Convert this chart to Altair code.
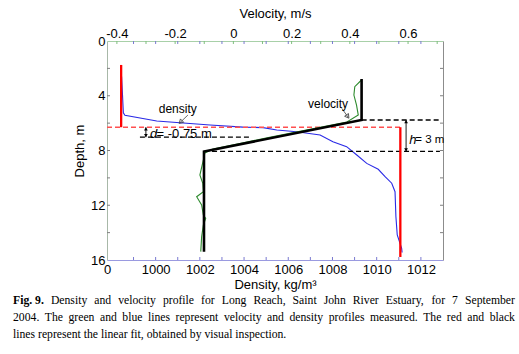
import altair as alt
import pandas as pd

# ---------------- data ----------------
# measured density profile (blue)
dens_depth = [2.6, 3.9, 5.25, 5.42, 5.84, 5.97, 6.14, 6.29, 6.33, 6.5, 6.63, 6.87,
              7.36, 7.72, 8.33, 8.94, 9.37, 9.91, 10.39, 11.01, 12.84, 14.17, 15.15, 15.45]
dens_vals = [998.46, 998.5, 998.54, 998.61, 1000.05, 1001.1, 1002.46, 1003.95, 1004.86,
             1005.48, 1006.38, 1007.44, 1008.02, 1008.64, 1009.1, 1009.55, 1010.07,
             1010.38, 1010.68, 1010.83, 1010.87, 1010.93, 1011.13, 1011.15]

# measured velocity profile (green)
vel_depth = [2.85, 3.34, 3.95, 4.68, 5.41, 5.92, 6.5, 7.05, 7.45, 7.89, 8.18, 8.69, 9.79,
             10.4, 11.01, 11.38, 11.98, 12.71, 12.95, 13.44, 14.3, 15.39]
vel_vals = [0.44, 0.417, 0.414, 0.423, 0.429, 0.39, 0.25, 0.12, 0.03, -0.07, -0.098,
            -0.103, -0.115, -0.105, -0.103, -0.126, -0.109, -0.103, -0.095, -0.103,
            -0.109, -0.112]

# linear fits
dens_fit_rho = [998.44, 1011.07]
dens_fit_top = [1.75, 6.3]
dens_fit_bot = [6.3, 15.78]
interface_depth = 6.3

vel_fit_v = [0.4404, 0.4404, -0.1009, -0.1009]
vel_fit_z = [2.78, 5.77, 8.07, 15.39]

shear_top, shear_bot, d_level = 5.77, 8.07, 7.03

dens_ticks_major = [1000, 1002, 1004, 1006, 1008, 1010, 1012]
dens_minor = list(range(999, 1013))
vel_labels = [-0.4, -0.2, 0, 0.2, 0.4, 0.6]
vel_minor = [-0.4, -0.3, -0.2, -0.1, 0, 0.1, 0.2, 0.3, 0.4, 0.5, 0.6, 0.7]
depth_ticks = [0, 2, 4, 6, 8, 10, 12, 14, 16]

cap_line1 = ["Fig. 9.", "Density", "and", "velocity", "profile", "for", "Long", "Reach,",
             "Saint", "John", "River", "Estuary,", "for", "7", "September"]
cap_line2 = ["2004.", "The", "green", "and", "blue", "lines", "represent", "velocity", "and",
             "density", "profiles", "measured.", "The", "red", "and", "black"]
cap_line3 = "lines represent the linear fit, obtained by visual inspection."

# ---------------- scales & axes ----------------
W, H = 336, 219
D_DOM = [997.8, 1013]
V_DOM = [-0.434, 0.72]
xd = alt.Scale(domain=D_DOM, nice=False, zero=False)
xv = alt.Scale(domain=V_DOM, nice=False, zero=False)
yz = alt.Scale(domain=[0, 16], nice=False, zero=False, reverse=True)

SANS = "Liberation Sans"
SERIF = "Liberation Serif"

ax_d = alt.Axis(orient="bottom", values=[D_DOM[0]] + dens_ticks_major, format="d",
                labelExpr="datum.value < 999 ? '0' : datum.label",
                ticks=False, grid=False, domainColor="#9a9ae0", labelFont=SANS,
                labelFontSize=13, labelColor="black", labelPadding=3, labelFlush=False,
                labelOverlap=False, title="Density, kg/m³", titleFont=SANS,
                titleFontSize=13, titleFontWeight="normal", titleColor="black",
                titlePadding=2)
ax_z = alt.Axis(orient="left", values=depth_ticks,
                labelExpr="datum.value % 4 == 0 ? datum.label : ''",
                ticks=False, grid=False, domainColor="#a8b8a8", labelFont=SANS,
                labelFontSize=13, labelColor="black", labelPadding=2, labelFlush=False,
                labelOverlap=False, title="Depth, m", titleFont=SANS, titleFontSize=13,
                titleFontWeight="normal", titleColor="black", titlePadding=4)
ax_v = alt.Axis(orient="top", values=vel_labels,
                labelExpr="replace(format(datum.value, '~g'), '\u2212', '-')",
                ticks=False, grid=False, domainColor="#a8d0a8", labelFont=SANS,
                labelFontSize=13, labelColor="black", labelPadding=1, labelFlush=False,
                labelOverlap=False, title="Velocity, m/s", titleFont=SANS,
                titleFontSize=13, titleFontWeight="normal", titleColor="black",
                titlePadding=7)
ax_zr = alt.Axis(orient="right", values=depth_ticks, labels=False, ticks=False,
                 grid=False, domainColor="#8c8c8c", title=None)


def X(f):
    return alt.X(f"{f}:Q", scale=xd, axis=ax_d)


def Y(f):
    return alt.Y(f"{f}:Q", scale=yz, axis=ax_z)


def XV(f):
    return alt.X(f"{f}:Q", scale=xv, axis=ax_v)


def YR(f):
    return alt.Y(f"{f}:Q", scale=yz, axis=ax_zr)


# ---------------- density group ----------------
df_dens = pd.DataFrame({"d": dens_vals, "z": dens_depth, "i": range(len(dens_vals))})
blue = alt.Chart(df_dens).mark_line(color="#2a2ae6", strokeWidth=1.1).encode(
    x=X("d"), y=Y("z"), order="i:Q")

df_red = pd.DataFrame({"d": dens_fit_rho, "z": dens_fit_top, "z2": dens_fit_bot})
red = alt.Chart(df_red).mark_rule(color="#ff0000", strokeWidth=2.3).encode(
    x=X("d"), y=Y("z"), y2="z2:Q")

df_red_dash = pd.DataFrame({"d": [D_DOM[0]], "d2": [dens_fit_rho[1]], "z": [interface_depth]})
red_dash = alt.Chart(df_red_dash).mark_rule(color="#ff5050", strokeWidth=1.6,
                                            strokeDash=[5, 3]).encode(
    x=X("d"), x2="d2:Q", y=Y("z"))

df_blk_dash = pd.DataFrame({"d": [999.29, 1002.19, 1009.32],
                            "d2": [1004.27, 1012.86, 1012.86],
                            "z": [d_level, shear_bot, shear_top]})
blk_dash = alt.Chart(df_blk_dash).mark_rule(color="black", strokeWidth=1.3,
                                            strokeDash=[5, 3]).encode(
    x=X("d"), x2="d2:Q", y=Y("z"))

# double arrows (d and h)
df_dbl = pd.DataFrame({"d": [999.56, 1011.33], "z": [interface_depth, shear_top],
                       "z2": [d_level, shear_bot]})
dbl = alt.Chart(df_dbl).mark_rule(color="black", strokeWidth=0.9).encode(
    x=X("d"), y=Y("z"), y2="z2:Q")
df_head_up = pd.DataFrame({"d": [999.56, 1011.33], "z": [interface_depth + 0.12, shear_top + 0.12]})
df_head_dn = pd.DataFrame({"d": [999.56, 1011.33], "z": [d_level - 0.12, shear_bot - 0.12]})
head_up = alt.Chart(df_head_up).mark_point(shape="triangle-up", filled=True, size=14,
                                           color="black", opacity=1).encode(x=X("d"), y=Y("z"))
head_dn = alt.Chart(df_head_dn).mark_point(shape="triangle-down", filled=True, size=14,
                                           color="black", opacity=1).encode(x=X("d"), y=Y("z"))

# label pointer arrows
df_ptr = pd.DataFrame({"d": [1001.46, 1008.42], "d2": [1001.1, 1008.71],
                       "z": [5.41, 4.92], "z2": [5.97, 5.57]})
ptr = alt.Chart(df_ptr).mark_rule(color="#404040", strokeWidth=0.8).encode(
    x=X("d"), x2="d2:Q", y=Y("z"), y2="z2:Q")
df_ptr_head = pd.DataFrame({"d": [1001.13, 1008.69], "z": [5.92, 5.52], "a": [226, 144]})
ptr_head = alt.Chart(df_ptr_head).mark_point(shape="triangle-up", filled=False, size=22,
                                             color="#404040", strokeWidth=0.8,
                                             opacity=1).encode(
    x=X("d"), y=Y("z"), angle=alt.Angle("a:Q", scale=None))

# annotation texts
df_lbl = pd.DataFrame({"d": [1001.0, 1007.8], "z": [4.97, 4.6], "t": ["density", "velocity"]})
lbl = alt.Chart(df_lbl).mark_text(font=SANS, fontSize=12, color="black").encode(
    x=X("d"), y=Y("z"), text="t:N")
df_ital = pd.DataFrame({"d": [999.75, 1011.47], "z": [6.82, 7.23], "t": ["d", "h"]})
ital = alt.Chart(df_ital).mark_text(font=SANS, fontSize=13, fontStyle="italic",
                                    align="left", color="black").encode(
    x=X("d"), y=Y("z"), text="t:N")
df_eq = pd.DataFrame({"d": [1000.04, 1011.75], "z": [6.82, 7.23], "t": ["= -0.75 m", "= 3 m"],
                      "s": [13, 11.5]})
eq = alt.Chart(df_eq).mark_text(font=SANS, align="left", color="black").encode(
    x=X("d"), y=Y("z"), text="t:N", size=alt.Size("s:Q", scale=None, legend=None))

# inward tick marks
df_bt = pd.DataFrame({"d": dens_minor})
bot_ticks = alt.Chart(df_bt).mark_rule(color="#7a7ad0", strokeWidth=1).encode(
    x=X("d"), y=alt.value(H), y2=alt.value(H - 3))
top_bticks = alt.Chart(df_bt).mark_rule(color="#7a7ad0", strokeWidth=1).encode(
    x=X("d"), y=alt.value(0), y2=alt.value(3))
df_zt = pd.DataFrame({"z": depth_ticks[1:-1]})
left_ticks = alt.Chart(df_zt).mark_rule(color="#808080", strokeWidth=1).encode(
    y=Y("z"), x=alt.value(0), x2=alt.value(3))
right_ticks = alt.Chart(df_zt).mark_rule(color="#808080", strokeWidth=1).encode(
    y=Y("z"), x=alt.value(W - 3), x2=alt.value(W))

dens_group = alt.layer(
    bot_ticks, top_bticks, left_ticks, right_ticks,
    blue, red_dash, blk_dash, red, dbl, head_up, head_dn, ptr, ptr_head,
    lbl, ital, eq)

# ---------------- velocity group ----------------
df_vel = pd.DataFrame({"v": vel_vals, "z": vel_depth, "i": range(len(vel_vals))})
green = alt.Chart(df_vel).mark_line(color="#2e8b2e", strokeWidth=1.1).encode(
    x=XV("v"), y=YR("z"), order="i:Q")
df_vfit = pd.DataFrame({"v": vel_fit_v, "z": vel_fit_z, "i": range(len(vel_fit_v))})
black = alt.Chart(df_vfit).mark_line(color="black", strokeWidth=2.6).encode(
    x=XV("v"), y=YR("z"), order="i:Q")
df_vt = pd.DataFrame({"v": vel_minor})
top_vticks = alt.Chart(df_vt).mark_rule(color="#7fbf7f", strokeWidth=1).encode(
    x=XV("v"), y=alt.value(0), y2=alt.value(3))

vel_group = alt.layer(top_vticks, green, black)

# ---------------- caption (justified text layout) ----------------
FS = 11.7
_tr = {" ": 250, ",": 250, "-": 333, ".": 250, "/": 278, ":": 278}
_tr.update({c: 500 for c in "0123456789"})
_tr.update(dict(zip("ABCDEFGHIJKLMNOPQRSTUVWXYZ",
                    [722, 667, 667, 722, 611, 556, 722, 722, 333, 389, 722, 611, 889,
                     722, 722, 556, 722, 667, 556, 611, 722, 722, 944, 722, 722, 611])))
_tr.update(dict(zip("abcdefghijklmnopqrstuvwxyz",
                    [444, 500, 444, 500, 444, 333, 500, 500, 278, 278, 500, 278, 778,
                     500, 500, 500, 500, 333, 389, 278, 500, 500, 722, 500, 500, 444])))
_tb = dict(_tr)
_tb.update({"F": 611, "i": 278, "g": 500, ".": 250, "9": 500, " ": 250})


def text_w(s, table):
    return sum(table.get(c, 500) for c in s) * FS / 1000.0


def justify(words, x0, x1, y, first_bold=False):
    widths = [text_w(w, _tb if (first_bold and k == 0) else _tr) for k, w in enumerate(words)]
    gap = (x1 - x0 - sum(widths)) / (len(words) - 1)
    rows, x = [], x0
    for k, (w, ww) in enumerate(zip(words, widths)):
        rows.append({"t": w, "px": x, "py": y, "b": int(first_bold and k == 0)})
        x += ww + gap
    return rows


cap_rows = (justify(cap_line1, -94, 408, 259, first_bold=True)
            + justify(cap_line2, -94, 408, 276)
            + [{"t": cap_line3, "px": -94, "py": 293, "b": 0}])
cap_df = pd.DataFrame(cap_rows)

cap_x = alt.X("px:Q", scale=None, axis=None)
cap_y = alt.Y("py:Q", scale=None, axis=None)
cap_norm = alt.Chart(cap_df[cap_df.b == 0]).mark_text(
    font=SERIF, fontSize=FS, align="left", baseline="middle", color="black").encode(
    text="t:N", x=cap_x, y=cap_y)
cap_bold = alt.Chart(cap_df[cap_df.b == 1]).mark_text(
    font=SERIF, fontSize=FS, fontWeight="bold", align="left", baseline="middle",
    color="black").encode(text="t:N", x=cap_x, y=cap_y)
cap_group = alt.layer(cap_norm, cap_bold)

chart = alt.layer(dens_group, vel_group, cap_group).resolve_scale(
    x="independent", y="independent"
).properties(
    width=W, height=H,
    autosize=alt.AutoSizeParams(type="none"),
    padding={"left": 107, "top": 41, "right": 76, "bottom": 94},
    background="white",
).configure_view(stroke=None)

chart.save("out.html", embed_options={"renderer": "svg", "actions": False})
